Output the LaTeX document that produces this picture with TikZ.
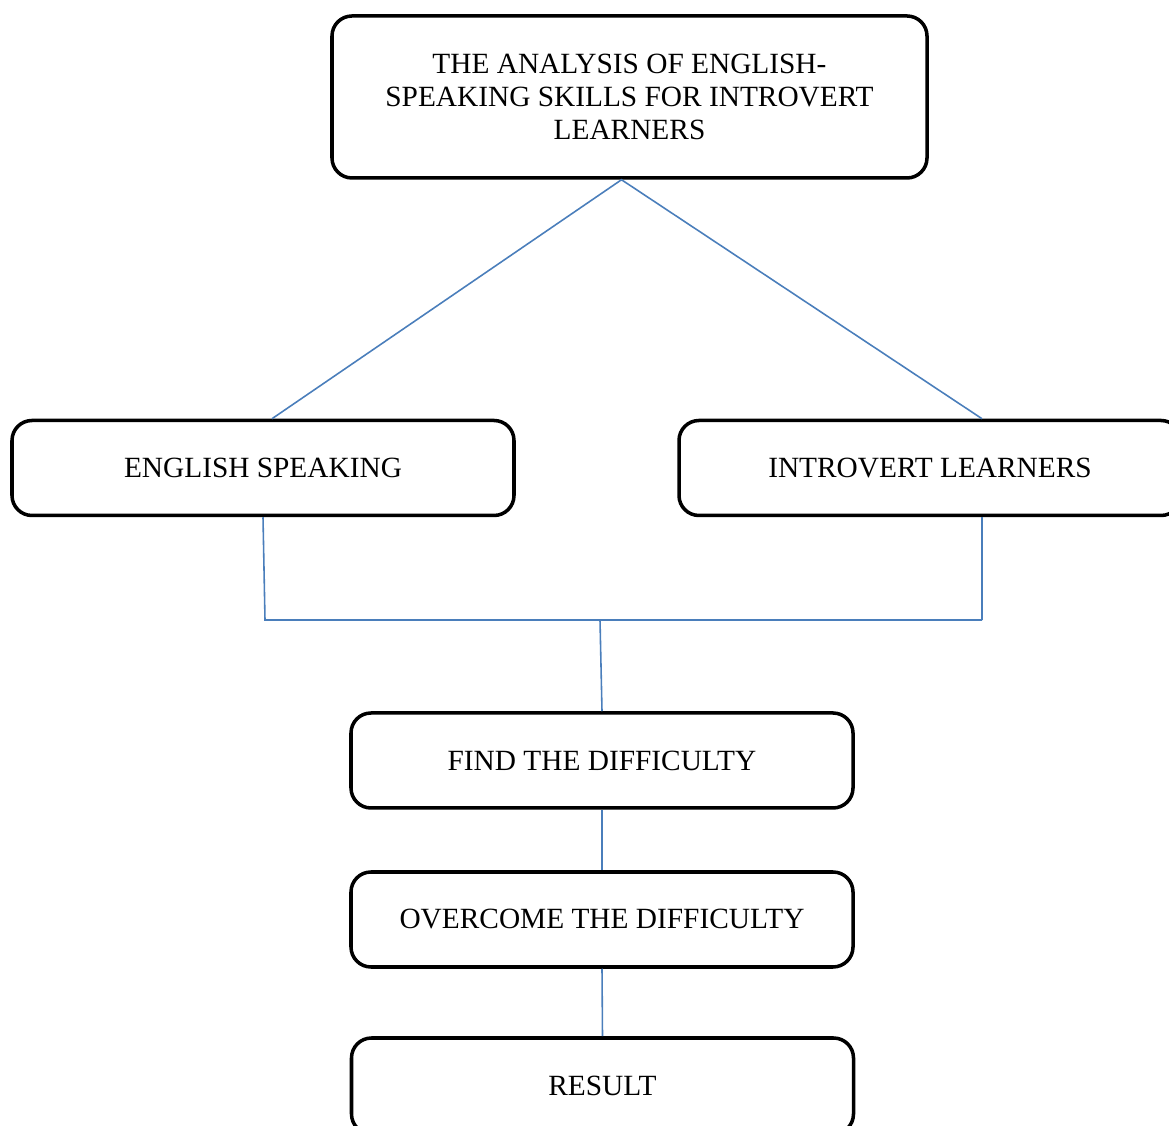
\documentclass[tikz,border=0pt]{standalone}
\usepackage{fontspec}
\setmainfont{Liberation Serif}
\usetikzlibrary{calc}
\definecolor{linkblue}{RGB}{74,126,187}

\begin{document}
\begin{tikzpicture}[
    box/.style={draw, line width=1pt, rounded corners=0.2cm, inner sep=0pt,
      minimum width=5.02cm, minimum height=0.95cm, align=center,
      font=\fontsize{8.35}{9.4}\selectfont},
    link/.style={draw=linkblue, line width=0.45pt}
  ]
    \useasboundingbox (0,0) rectangle (11.69,11.26);
    \clip (0,0) rectangle (11.69,11.26);

    \node[box, minimum width=5.95cm, minimum height=1.62cm] (title) at (6.295, 10.29)
      {THE ANALYSIS OF ENGLISH-\\SPEAKING SKILLS FOR INTROVERT\\LEARNERS};
    \node[box] (eng) at (2.63, 6.58) {ENGLISH SPEAKING};
    \node[box] (intro) at (9.30, 6.58) {INTROVERT LEARNERS};
    \node[box] (find) at (6.02, 3.655) {FIND THE DIFFICULTY};
    \node[box] (over) at (6.02, 2.065) {OVERCOME THE DIFFICULTY};
    \node[box, minimum height=0.96cm] (res) at (6.025, 0.40) {RESULT};

    % junction points
    \coordinate (apex) at ($(title.south)+(-0.08,0)$);
    \coordinate (jL) at (2.65, 5.06);
    \coordinate (jR) at (9.82, 5.06);
    \coordinate (jM) at (6.00, 5.06);

    \draw[link] ($(eng.north)+(0.09,0)$) -- (apex) -- (intro.north -| jR);
    \draw[link] (eng.south) -- (jL) -- (jR);
    \draw[link] (intro.south -| jR) -- (jR);
    \draw[link] (jM) -- (find.north);
    \draw[link] (find.south) -- (over.north);
    \draw[link] (over.south) -- (res.north);
  \end{tikzpicture}
\end{document}
